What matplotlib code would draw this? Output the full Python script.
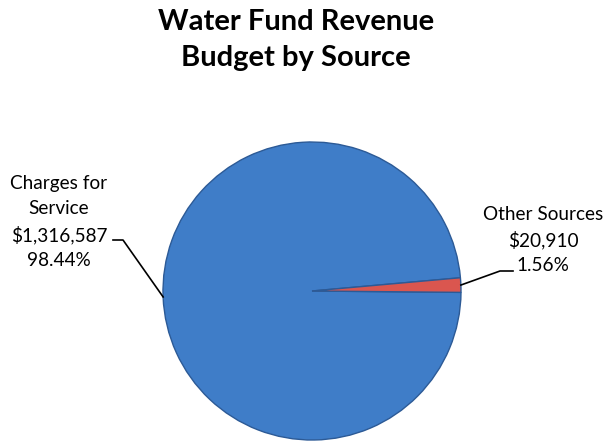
import numpy as np
import matplotlib
matplotlib.use('Agg')
from matplotlib import pyplot as plt

# Chart data
sources = ['Charges for\nService', 'Other Sources']
amounts = [1316587, 20910]
colors = ['#3F7DC8', '#DA564F']
title = 'Water Fund Revenue\nBudget by Source'

W, H = 606, 446
fig = plt.figure(figsize=(W / 100, H / 100), dpi=100)
ax = fig.add_axes([0, 0, 1, 1])

# pie laid out in pixel coordinates (y up)
cx, cy, r = 312, H - 291, 149
total = sum(amounts)
wedges, _ = ax.pie(amounts, colors=colors, startangle=5.1, counterclock=True,
                   center=(cx, cy), radius=r,
                   wedgeprops=dict(edgecolor='#2C5A96', linewidth=1.0))
ax.set_xlim(0, W)
ax.set_ylim(0, H)
ax.set_aspect('equal')
ax.axis('off')

font = 'Lato'
ax.text(296, H - 40, title, ha='center', va='center', fontsize=21,
        fontweight='bold', family=font, linespacing=1.45)


def edge_point(w):
    mid = np.deg2rad((w.theta1 + w.theta2) / 2)
    return cx + r * np.cos(mid), cy + r * np.sin(mid)


labels = []
for name, amt in zip(sources, amounts):
    labels.append('%s\n${:,}\n%.2f%%'.format(amt) % (name, 100 * amt / total))

# left label
ax.text(59, H - 222, labels[0], ha='center', va='center', fontsize=13.7,
        family=font, linespacing=1.55)
ex, ey = edge_point(wedges[0])
ax.plot([113, 123, ex], [H - 240, H - 240, ey], color='black', lw=1.2)

# right label
ax.text(543, H - 240, labels[1], ha='center', va='center', fontsize=13.7,
        family=font, linespacing=1.55)
ex, ey = edge_point(wedges[1])
ax.plot([513, 500, ex], [H - 271, H - 271, ey], color='black', lw=1.2)

fig.savefig('out.png', dpi=100)
